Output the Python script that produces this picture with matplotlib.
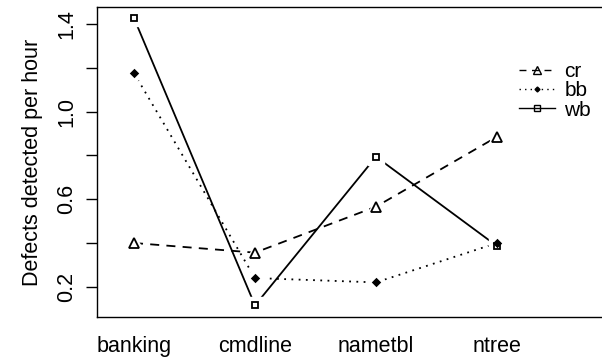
import matplotlib.pyplot as plt

# data
programs = ["banking", "cmdline", "nametbl", "ntree"]
cr = [0.40, 0.356, 0.566, 0.885]
bb = [1.176, 0.24, 0.22, 0.40]
wb = [1.427, 0.115, 0.794, 0.386]

plt.rcParams['font.family'] = ['Liberation Sans', 'DejaVu Sans']

fig = plt.figure(figsize=(6.02, 3.6), dpi=100)
ax = fig.add_axes([97 / 602, 43 / 360, 1 - 97 / 602, 310 / 360])

x = list(range(1, len(programs) + 1))
styles = [
    ("cr", cr, (0, (5, 4)), "^", 7, "none"),
    ("bb", bb, (0, (1, 3)), "D", 3.5, "black"),
    ("wb", wb, "-", "s", 5, "none"),
]
for name, vals, ls, mk, ms, fc in styles:
    # line, then a white halo so the line stops short of the point (R type="b")
    ax.plot(x, vals, color="black", ls=ls, lw=1.3, zorder=1)
    ax.plot(x, vals, ls="none", marker=mk, ms=ms + 7, mfc="white", mec="white", zorder=2)
    ax.plot(x, vals, ls="none", marker=mk, ms=ms, mfc=fc, mec="black", mew=1.3, zorder=3)

# legend handles
handles = []
for name, vals, ls, mk, ms, fc in styles:
    h, = ax.plot([], [], color="black", ls=ls, lw=1, marker=mk, ms=ms - 1, mfc=fc, mec="black", mew=1)
    handles.append(h)
ax.legend(handles, [s[0] for s in styles], loc="upper left", bbox_to_anchor=(0.82, 0.85),
          frameon=False, fontsize=15, handlelength=1.7, handletextpad=0.45,
          labelspacing=0.02, borderaxespad=0)

ax.set_xlim(1 - 37 / 121, 1 + (602 - 134) / 121)
ax.set_ylim(0.062, 1.478)
ax.set_xticks(x)
ax.set_xticklabels(programs, fontsize=15.5)
ax.tick_params(axis="x", length=0, pad=14)

yt = [0.2, 0.4, 0.6, 0.8, 1.0, 1.2, 1.4]
ax.set_yticks(yt)
ax.set_yticklabels(["0.2", "", "0.6", "", "1.0", "", "1.4"], rotation=90, va="center", fontsize=15.5)
ax.tick_params(axis="y", length=8, width=1, pad=6)
ax.set_ylabel("Defects detected per hour", fontsize=15.5, labelpad=10)

ax.spines["right"].set_visible(False)
for s in ["left", "bottom", "top"]:
    ax.spines[s].set_linewidth(1)

fig.savefig("out.png", dpi=100)
